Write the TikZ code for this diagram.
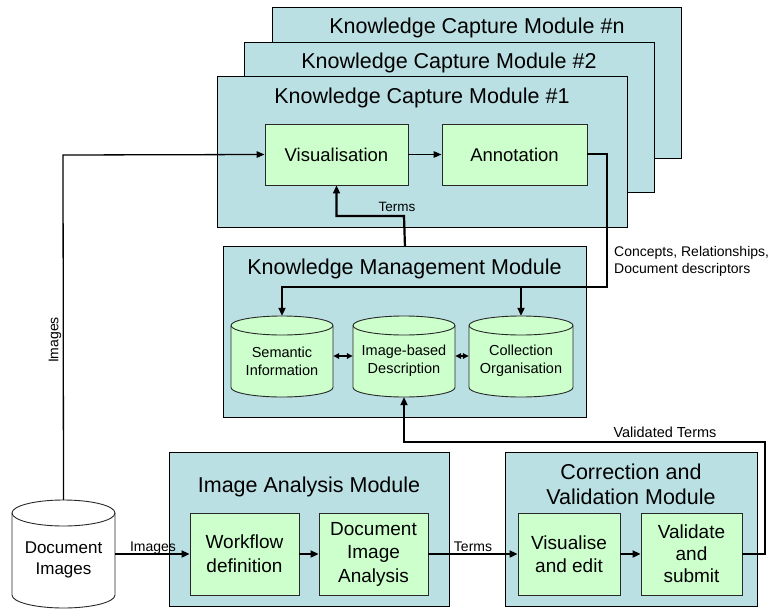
\documentclass[tikz,border=0pt]{standalone}
\usepackage{fontspec}
\setmainfont{Liberation Sans}
\usetikzlibrary{arrows.meta}
\definecolor{modfill}{RGB}{187,224,227}
\definecolor{boxfill}{RGB}{204,255,204}
\definecolor{edge}{RGB}{40,40,40}
\newcommand\fs[2]{\fontsize{#1}{#2}\selectfont}
% cylinder: cx, cy, half width, half height, ry, fill
\newcommand\mycyl[6]{%
  \path[draw=edge, line width=0.9pt, fill=#6]
    ({#1-#3},{#2-#4+#5}) -- ({#1-#3},{#2+#4-#5})
    arc[start angle=180, end angle=360, x radius=#3pt, y radius=#5pt]
    -- ({#1+#3},{#2-#4+#5})
    arc[start angle=0, end angle=180, x radius=#3pt, y radius=#5pt] -- cycle;
  \draw[edge, line width=0.9pt] ({#1-#3},{#2-#4+#5})
    arc[start angle=180, end angle=360, x radius=#3pt, y radius=#5pt];
}
\tikzset{
  module/.style={draw=black, line width=0.9pt, fill=modfill},
  greenbox/.style={draw=edge, line width=0.9pt, fill=boxfill, inner sep=0pt, align=center},
  modtitle/.style={inner sep=0pt, font=\fs{21.5}{25}, align=center},
  cylbox/.style={inner sep=0pt, draw=none},
  cyltext/.style={inner sep=0pt, align=center, font=\fs{14.5}{18}},
  lbl/.style={inner sep=0pt, font=\fs{14}{17}},
  thin/.style={line width=1.3pt, -{Triangle[length=8pt,width=6.5pt]}},
  thick/.style={line width=2.2pt, -{Triangle[length=8pt,width=7pt]}},
  thickline/.style={line width=2.2pt},
}
\begin{document}
\begin{tikzpicture}[x=1pt,y=-1pt]
\useasboundingbox (0,0) rectangle (773,610);
% Knowledge capture modules
\node[module, minimum width=409pt, minimum height=151pt, anchor=north west] (kcmn) at (272,7) {};
\node[modtitle, anchor=base] (kcmnt) at (477,34) {Knowledge Capture Module \#n};
\node[module, minimum width=410pt, minimum height=150pt, anchor=north west] (kcm2) at (244,42) {};
\node[modtitle, anchor=base] (kcm2t) at (449,68.5) {Knowledge Capture Module \#2};
\node[module, minimum width=410pt, minimum height=151pt, anchor=north west] (kcm1) at (217,76) {};
\node[modtitle, anchor=base] (kcm1t) at (422,103.5) {Knowledge Capture Module \#1};
\node[greenbox, minimum width=143pt, minimum height=61pt, font=\fs{18.5}{22}] (vis) at (336.5,154.5) {Visualisation};
\node[greenbox, minimum width=145pt, minimum height=61pt, font=\fs{18.5}{22}] (ann) at (514.5,154.5) {Annotation};
\draw[thin] (vis) -- (ann);

% Knowledge management module
\node[module, minimum width=363pt, minimum height=171pt, anchor=north west] (kmm) at (223,246) {};
\node[modtitle, anchor=base] (kmmt) at (404.5,274) {Knowledge Management Module};
\mycyl{282}{356.5}{51}{40.5}{9.5}{boxfill}
\mycyl{404}{356.5}{51}{40.5}{9.5}{boxfill}
\mycyl{521}{356.5}{52}{40.5}{9.5}{boxfill}
\node[cylbox, minimum width=102pt, minimum height=81pt] (sem) at (282,356.5) {};
\node[cylbox, minimum width=102pt, minimum height=81pt] (img) at (404,356.5) {};
\node[cylbox, minimum width=104pt, minimum height=81pt] (coll) at (521,356.5) {};
\node[cyltext] (semt) at (282,361) {Semantic\\Information};
\node[cyltext] (imgt) at (404,361) {Image-based\\Description};
\node[cyltext] (collt) at (521,361) {Collection\\Organisation};
\draw[line width=1.6pt, {Triangle[length=6pt,width=5.5pt]}-{Triangle[length=6pt,width=5.5pt]}] (sem.east |- 0,356) -- (img.west |- 0,356);
\draw[line width=1.6pt, {Triangle[length=6pt,width=5.5pt]}-{Triangle[length=6pt,width=5.5pt]}] (img.east |- 0,356) -- (coll.west |- 0,356);

% connectors between KCM and KMM
\draw[thickline, -{Triangle[length=8pt,width=7pt]}] (kmm.north) -- (404,216) -- (vis.south |- 0,216) -- (vis.south);
\node[lbl, font=\fs{13.5}{16}] (termsa) at (397,207) {Terms};
\coordinate (cr) at (607,287);
\draw[thickline, -{Triangle[length=8pt,width=7pt]}] (ann.east |- 0,154) -- (607,154) -- (cr) -- (sem.north |- cr) -- (sem.north);
\draw[thickline, -{Triangle[length=8pt,width=7pt]}] (coll.north |- cr) -- (coll.north);
\node[lbl, anchor=north west, align=left] (cons) at (614,246) {Concepts, Relationships,\\Document descriptors};

% Document images
\mycyl{63.5}{554}{51.5}{54}{13}{white}
\node[cylbox, minimum width=103pt, minimum height=108pt] (doc) at (63.5,554) {};
\node[inner sep=0pt, align=center, font=\fs{17}{20.5}] (doct) at (63.5,560) {Document\\Images};
\draw[thin] (doc.north) -- (63,155) -- (vis.west);
\node[lbl, rotate=90] (imglbl) at (55,340) {Images};

% Image analysis module
\node[module, minimum width=280pt, minimum height=154pt, anchor=north west] (iam) at (169,452) {};
\node[modtitle, anchor=base] (iamt) at (309,492.5) {Image Analysis Module};
\node[greenbox, minimum width=109pt, minimum height=82pt, font=\fs{19}{24}] (wf) at (244.5,554) {Workflow\\definition};
\node[greenbox, minimum width=109pt, minimum height=82pt, font=\fs{19}{23.5}] (dia) at (373.5,554) {Document\\Image\\Analysis};
\draw[thick] (wf) -- (dia);
\draw[thick] (doc.east |- 0,554) -- (wf.west);
\node[lbl, anchor=base] (imglbl2) at (153,551) {Images};

% Correction and validation module
\node[module, minimum width=252pt, minimum height=154pt, anchor=north west] (cvm) at (505,452) {};
\node[modtitle] (cvmt) at (631,484.5) {Correction and\\Validation Module};
\node[greenbox, minimum width=102pt, minimum height=82pt, font=\fs{19}{23}] (vise) at (569,554) {Visualise\\and edit};
\node[greenbox, minimum width=101pt, minimum height=82pt, font=\fs{19}{22}] (valid) at (691.5,554) {Validate\\and\\submit};
\draw[thick] (vise) -- (valid);
\draw[thick] (dia) -- (vise);
\node[lbl, anchor=base] (termsb) at (473,551) {Terms};
\draw[thickline, -{Triangle[length=8pt,width=7pt]}] (valid.east) -- (765,554) -- (765,442) -- (img.south |- 0,442) -- (img.south);
\node[lbl, font=\fs{14.5}{17}] (vt) at (665,432) {Validated Terms};
\end{tikzpicture}
\end{document}
